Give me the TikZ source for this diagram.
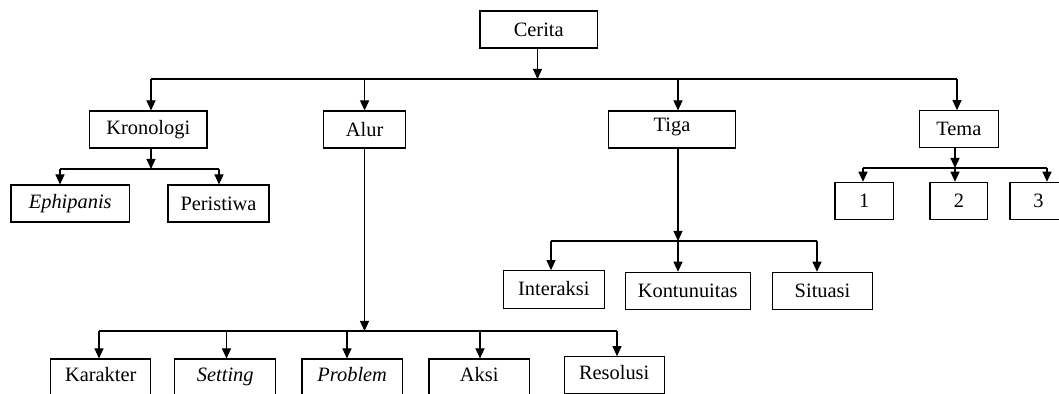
\documentclass[tikz,border=0pt]{standalone}
\usepackage{fontspec}
\setmainfont{Liberation Serif}
\usetikzlibrary{arrows.meta}

\tikzset{
    box/.style={draw,line width=0.55pt,inner sep=0pt,minimum height=18.5pt,font=\fontsize{10.2}{12}\selectfont},
    arr/.style={-{Triangle[width=4.5pt,length=5pt]}}
}

\begin{document}
\begin{tikzpicture}[x=0.5pt,y=-0.5pt,line width=0.55pt]
    \useasboundingbox (0,0) rectangle (1059,394);
    \node [box,minimum width=58.75pt] (cerita) at (538.75,29.5) {Cerita};
    \node [box,minimum width=58.7pt] (kronologi) at (148.3,129.5) {Kronologi};
    \node [box,minimum width=41.1pt] (alur) at (364.6,129.5) {Alur};
    \node [box,minimum width=63.7pt] (tiga) at (672,129.5) {\raisebox{5pt}{Tiga}};
    \node [box,minimum width=39.5pt] (tema) at (958.8,129.2) {Tema};
    \node [box,minimum width=59.25pt] (ephipanis) at (70.25,203.5) {\textit{Ephipanis}};
    \node [box,minimum width=50.5pt] (peristiwa) at (218.5,203.5) {Peristiwa};
    \node [box,minimum width=29.2pt] (one) at (864.2,200.8) {1};
    \node [box,minimum width=28.9pt] (two) at (958.9,200.8) {2};
    \node [box,minimum width=28.5pt] (three) at (1038.5,200.8) {3};
    \node [box,minimum width=50.5pt,minimum height=18.8pt] (interaksi) at (553.8,289.5) {\raisebox{1pt}{Interaksi}};
    \node [box,minimum width=62.4pt] (kontunuitas) at (687.7,290.8) {Kontunuitas};
    \node [box,minimum width=50.2pt] (situasi) at (822.5,290.8) {Situasi};
    \node [box,minimum width=50pt] (karakter) at (100.7,377.5) {\raisebox{3pt}{Karakter}};
    \node [box,minimum width=50.4pt] (setting) at (225.3,377.5) {\raisebox{3pt}{\textit{Setting}}};
    \node [box,minimum width=50.2pt] (problem) at (352.2,377.5) {\raisebox{3pt}{\textit{Problem}}};
    \node [box,minimum width=50.2pt] (aksi) at (479.2,377.5) {\raisebox{3pt}{Aksi}};
    \node [box,minimum width=49.9pt] (resolusi) at (614.2,375.2) {\raisebox{3pt}{Resolusi}};

    \coordinate (top) at (537.5,79);
    \coordinate (b1) at (151,79);
    \coordinate (b3) at (678,79);
    \coordinate (b4) at (957,79);
    \draw [arr] (cerita.south -| top) -- (top);
    \draw (b1) -- (b4);
    \draw [arr] (b1) -- (b1 |- kronologi.north);
    \draw [arr] (alur |- top) -- (alur.north);
    \draw [arr] (b3) -- (b3 |- tiga.north);
    \draw [arr] (b4) -- (b4 |- tema.north);

    \coordinate (k) at (151,169);
    \coordinate (k1) at (60,169);
    \coordinate (k2) at (219,169);
    \draw [arr] (kronologi.south -| k) -- (k);
    \draw (k1) -- (k2);
    \draw [arr] (k1) -- (k1 |- ephipanis.north);
    \draw [arr] (k2) -- (k2 |- peristiwa.north);

    \coordinate (t) at (955,168);
    \coordinate (t1) at (863,168);
    \coordinate (t3) at (1047,168);
    \draw [arr] (tema.south -| t) -- (t);
    \draw (t1) -- (t3);
    \draw [arr] (t1) -- (t1 |- one.north);
    \draw [arr] (t) -- (t |- two.north);
    \draw [arr] (t3) -- (t3 |- three.north);

    \coordinate (g) at (678,241);
    \coordinate (g1) at (551,241);
    \coordinate (g3) at (817,241);
    \draw [arr] (tiga.south -| g) -- (g);
    \draw (g1) -- (g3);
    \draw [arr] (g1) -- (g1 |- interaksi.north);
    \draw [arr] (g) -- (g |- kontunuitas.north);
    \draw [arr] (g3) -- (g3 |- situasi.north);

    \coordinate (a) at (364.5,331);
    \coordinate (a1) at (99,331);
    \coordinate (a2) at (226.5,331);
    \coordinate (a3) at (347,331);
    \coordinate (a4) at (480,331);
    \coordinate (a5) at (617,331);
    \draw [arr] (alur.south -| a) -- (a);
    \draw (a1) -- (a5);
    \draw [arr] (a1) -- (a1 |- karakter.north);
    \draw [arr] (a2) -- (a2 |- setting.north);
    \draw [arr] (a3) -- (a3 |- problem.north);
    \draw [arr] (a4) -- (a4 |- aksi.north);
    \draw [arr] (a5) -- (a5 |- resolusi.north);
\end{tikzpicture}
\end{document}
